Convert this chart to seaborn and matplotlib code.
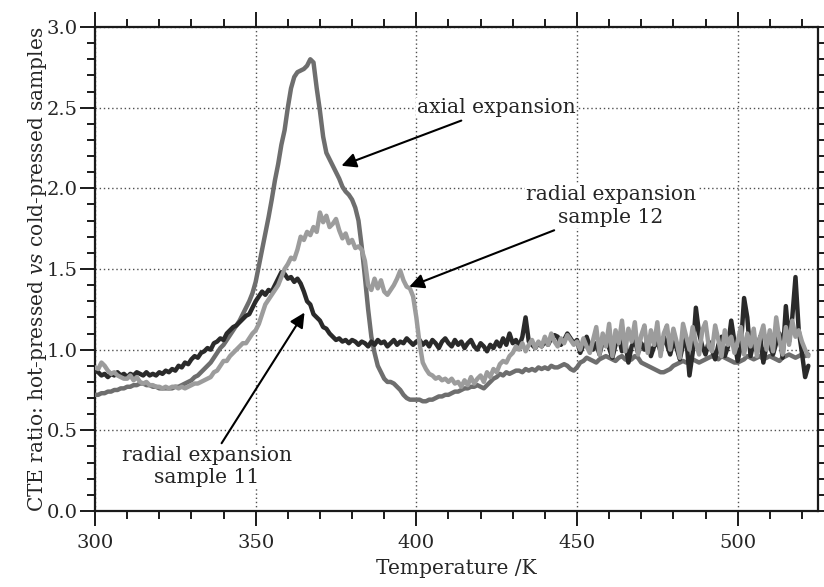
import numpy as np
import pandas as pd
import matplotlib
matplotlib.use("Agg")
import matplotlib.pyplot as plt
from matplotlib.ticker import MultipleLocator, FormatStrFormatter
import seaborn as sns

# Temperature grid (K), 1 K steps
temperature = list(range(300, 523))

# Radial expansion, sample 11
sample11 = [
    0.87, 0.86, 0.84, 0.85, 0.83, 0.85, 0.84, 0.86, 0.84, 0.85,
    0.83, 0.85, 0.84, 0.86, 0.85, 0.84, 0.86, 0.84, 0.85, 0.84,
    0.86, 0.85, 0.87, 0.86, 0.88, 0.87, 0.90, 0.89, 0.92, 0.91,
    0.94, 0.96, 0.95, 0.98, 0.99, 1.01, 1.00, 1.04, 1.05, 1.07,
    1.06, 1.10, 1.12, 1.14, 1.15, 1.17, 1.19, 1.21, 1.22, 1.26,
    1.30, 1.33, 1.36, 1.34, 1.37, 1.36, 1.40, 1.44, 1.48, 1.47,
    1.44, 1.45, 1.42, 1.44, 1.41, 1.36, 1.30, 1.28, 1.22, 1.20,
    1.18, 1.14, 1.13, 1.10, 1.08, 1.06, 1.07, 1.05, 1.06, 1.04,
    1.06, 1.05, 1.03, 1.05, 1.04, 1.02, 1.05, 1.03, 1.06, 1.04,
    1.05, 1.02, 1.04, 1.06, 1.03, 1.05, 1.04, 1.07, 1.05, 1.03,
    1.05, 1.06, 1.03, 1.05, 1.02, 1.06, 1.04, 1.01, 1.05, 1.07,
    1.04, 1.02, 1.06, 1.03, 1.05, 1.01, 1.04, 1.06, 1.02, 1.00,
    1.04, 1.02, 0.99, 1.03, 1.01, 1.05, 1.02, 1.07, 1.03, 1.10,
    1.04, 1.06, 1.02, 1.08, 1.20, 1.05, 1.03, 1.01, 1.04, 1.02,
    1.05, 1.03, 1.07, 1.09, 1.08, 1.03, 1.06, 1.10, 1.07, 1.04,
    1.06, 0.98, 1.03, 1.08, 1.02, 1.00, 1.04, 0.97, 1.05, 1.07,
    1.01, 0.95, 1.03, 1.08, 0.99, 1.05, 0.92, 1.02, 1.06, 0.98,
    1.04, 1.00, 1.07, 0.96, 1.02, 1.05, 0.99, 1.08, 1.03, 0.97,
    1.05, 1.01, 0.94, 1.03, 1.07, 0.84, 0.98, 1.26, 1.10, 1.02,
    0.97, 1.05, 1.00, 0.94, 1.03, 1.08, 0.96, 1.02, 1.18, 1.05,
    0.93, 1.02, 1.32, 1.20, 0.96, 1.05, 0.99, 1.08, 0.92, 1.03,
    1.02, 0.97, 1.04, 1.10, 0.95, 1.27, 1.05, 1.20, 1.45, 1.12,
    0.98, 0.83, 0.90,
]

# Axial expansion
axial = [
    0.72, 0.72, 0.73, 0.73, 0.74, 0.74, 0.75, 0.75, 0.76, 0.76,
    0.77, 0.77, 0.78, 0.78, 0.79, 0.79, 0.78, 0.78, 0.77, 0.77,
    0.76, 0.76, 0.76, 0.76, 0.76, 0.77, 0.77, 0.78, 0.79, 0.80,
    0.81, 0.83, 0.84, 0.86, 0.88, 0.90, 0.92, 0.95, 0.98, 1.01,
    1.03, 1.06, 1.09, 1.12, 1.15, 1.18, 1.22, 1.26, 1.30, 1.35,
    1.42, 1.52, 1.62, 1.72, 1.82, 1.93, 2.05, 2.15, 2.27, 2.36,
    2.50, 2.62, 2.69, 2.72, 2.73, 2.74, 2.76, 2.80, 2.78, 2.62,
    2.48, 2.32, 2.22, 2.18, 2.14, 2.10, 2.06, 2.01, 1.98, 1.96,
    1.93, 1.88, 1.80, 1.64, 1.45, 1.25, 1.08, 0.98, 0.90, 0.86,
    0.82, 0.80, 0.80, 0.79, 0.77, 0.75, 0.72, 0.70, 0.69, 0.69,
    0.69, 0.69, 0.68, 0.68, 0.69, 0.69, 0.70, 0.71, 0.71, 0.72,
    0.72, 0.73, 0.74, 0.74, 0.75, 0.76, 0.76, 0.77, 0.77, 0.78,
    0.77, 0.76, 0.78, 0.80, 0.82, 0.83, 0.85, 0.84, 0.86, 0.85,
    0.86, 0.87, 0.87, 0.86, 0.88, 0.87, 0.88, 0.87, 0.89, 0.88,
    0.89, 0.88, 0.90, 0.89, 0.89, 0.90, 0.91, 0.90, 0.88, 0.87,
    0.89, 0.92, 0.93, 0.95, 0.94, 0.93, 0.92, 0.94, 0.95, 0.96,
    0.95, 0.94, 0.93, 0.95, 0.96, 0.94, 0.93, 0.94, 0.96, 0.95,
    0.92, 0.91, 0.90, 0.89, 0.88, 0.87, 0.86, 0.86, 0.87, 0.88,
    0.90, 0.91, 0.92, 0.93, 0.92, 0.93, 0.94, 0.93, 0.92, 0.93,
    0.94, 0.95, 0.96, 0.95, 0.94, 0.96, 0.95, 0.94, 0.93, 0.92,
    0.92, 0.93, 0.94, 0.96, 0.95, 0.94, 0.95, 0.96, 0.94, 0.95,
    0.96, 0.95, 0.94, 0.93, 0.95, 0.96, 0.97, 0.96, 0.95, 0.96,
    0.97, 0.96, 0.97,
]

# Radial expansion, sample 12
sample12 = [
    0.89, 0.88, 0.92, 0.90, 0.87, 0.85, 0.86, 0.84, 0.83, 0.82,
    0.82, 0.84, 0.81, 0.83, 0.80, 0.79, 0.80, 0.78, 0.78, 0.77,
    0.77, 0.76, 0.77, 0.76, 0.77, 0.77, 0.76, 0.77, 0.76, 0.77,
    0.78, 0.79, 0.79, 0.80, 0.81, 0.82, 0.83, 0.86, 0.87, 0.90,
    0.93, 0.93, 0.96, 0.98, 1.00, 1.02, 1.04, 1.04, 1.07, 1.10,
    1.12, 1.16, 1.22, 1.28, 1.31, 1.34, 1.37, 1.40, 1.45, 1.50,
    1.53, 1.57, 1.56, 1.62, 1.70, 1.68, 1.73, 1.71, 1.76, 1.73,
    1.85, 1.79, 1.83, 1.76, 1.78, 1.81, 1.74, 1.69, 1.72, 1.66,
    1.68, 1.63, 1.64, 1.62, 1.55, 1.40, 1.37, 1.44, 1.38, 1.43,
    1.36, 1.34, 1.37, 1.40, 1.44, 1.49, 1.43, 1.39, 1.38, 1.33,
    1.20, 1.04, 0.92, 0.88, 0.85, 0.84, 0.82, 0.83, 0.81, 0.82,
    0.80, 0.82, 0.79, 0.80, 0.77, 0.81, 0.78, 0.83, 0.79, 0.82,
    0.84, 0.80, 0.86, 0.83, 0.88, 0.86, 0.91, 0.93, 0.92, 0.96,
    0.98, 1.02, 1.00, 1.04, 0.99, 1.03, 1.06, 1.01, 1.05, 1.02,
    1.08, 1.03, 1.10, 1.05, 1.02, 1.07, 1.04, 1.09, 1.06, 1.03,
    1.05, 1.00, 1.07, 1.02, 0.98, 1.06, 1.14, 0.97, 1.10, 1.02,
    1.16, 0.96, 1.12, 1.04, 1.18, 0.99, 1.13, 1.05, 1.17, 0.97,
    1.09, 1.15, 0.98, 1.12, 1.03, 1.17, 0.96, 1.10, 1.15, 1.00,
    1.13, 1.05, 0.95, 1.16, 1.08, 1.00, 1.14, 1.04, 0.97, 1.12,
    1.17, 1.02, 0.99, 1.15, 1.06, 0.96, 1.12, 1.03, 1.08, 0.98,
    1.05, 1.14, 0.97, 1.10, 1.02, 1.13, 0.96, 1.08, 1.15, 1.00,
    1.12, 0.99, 1.20, 1.06, 0.97, 1.14, 1.03, 1.18, 1.08, 1.12,
    1.05, 1.00, 0.96,
]

df = pd.DataFrame({
    "T": temperature,
    "sample11": sample11,
    "axial": axial,
    "sample12": sample12,
})

sns.set_style("ticks")
plt.rcParams["font.family"] = ["DejaVu Serif"]
plt.rcParams["mathtext.fontset"] = "custom"
plt.rcParams["mathtext.rm"] = "DejaVu Serif"
plt.rcParams["mathtext.it"] = "DejaVu Serif:italic"

fig = plt.figure(figsize=(8.24, 5.87), dpi=100)
ax = fig.add_axes([0.1153, 0.1295, 0.8774, 0.8245])

ax.grid(True, which="major", linestyle=(0, (1, 2)), color="#505050", linewidth=1.0, zorder=0)
ax.set_axisbelow(True)

lw = 3.2
sns.lineplot(data=df, x="T", y="axial", ax=ax, color="#6e6e6e", linewidth=lw, zorder=3)
sns.lineplot(data=df, x="T", y="sample11", ax=ax, color="#2a2a2a", linewidth=lw, zorder=4)
sns.lineplot(data=df, x="T", y="sample12", ax=ax, color="#9c9c9c", linewidth=lw, zorder=5)

ax.set_xlim(300, 525)
ax.set_ylim(0, 3.0)
ax.xaxis.set_major_locator(MultipleLocator(50))
ax.xaxis.set_minor_locator(MultipleLocator(10))
ax.yaxis.set_major_locator(MultipleLocator(0.5))
ax.yaxis.set_minor_locator(MultipleLocator(0.1))
ax.yaxis.set_major_formatter(FormatStrFormatter("%.1f"))

for side in ["left", "right", "top", "bottom"]:
    ax.spines[side].set_visible(True)
    ax.spines[side].set_linewidth(1.6)
    ax.spines[side].set_color("#1a1a1a")

ax.tick_params(which="both", direction="out", top=True, right=True,
               labeltop=False, labelright=False, color="#1a1a1a", width=1.4)
ax.tick_params(which="major", length=10.5, labelsize=14)
ax.tick_params(which="minor", length=5.5)
ax.tick_params(axis="x", which="major", pad=6)
ax.tick_params(axis="y", which="major", pad=2)

ax.set_xlabel("Temperature /K", fontsize=14.5, labelpad=5)
ax.set_ylabel(r"CTE ratio: hot-pressed $\mathit{vs}$ cold-pressed samples",
              fontsize=14.5, labelpad=-2)

box = dict(facecolor="white", edgecolor="none", pad=0.5)
arrow = dict(arrowstyle="-|>", color="black", lw=1.5, mutation_scale=22,
             shrinkA=0, shrinkB=0)
fs = 14.6

ax.text(424.8, 2.50, "axial expansion", ha="center", va="center",
        fontsize=fs, bbox=box, zorder=10)
ax.annotate("", xy=(376.7, 2.14), xytext=(414, 2.42), arrowprops=arrow, zorder=10)

ax.text(460.6, 1.89, "radial expansion\nsample 12", ha="center", va="center",
        fontsize=fs, bbox=box, zorder=10, linespacing=1.25)
ax.annotate("", xy=(397.8, 1.39), xytext=(442.9, 1.74), arrowprops=arrow, zorder=10)

ax.text(334.8, 0.276, "radial expansion\nsample 11", ha="center", va="center",
        fontsize=fs, bbox=box, zorder=10, linespacing=1.25)
ax.annotate("", xy=(365.2, 1.23), xytext=(339.4, 0.42), arrowprops=arrow, zorder=10)

fig.savefig("out.png", dpi=100)
